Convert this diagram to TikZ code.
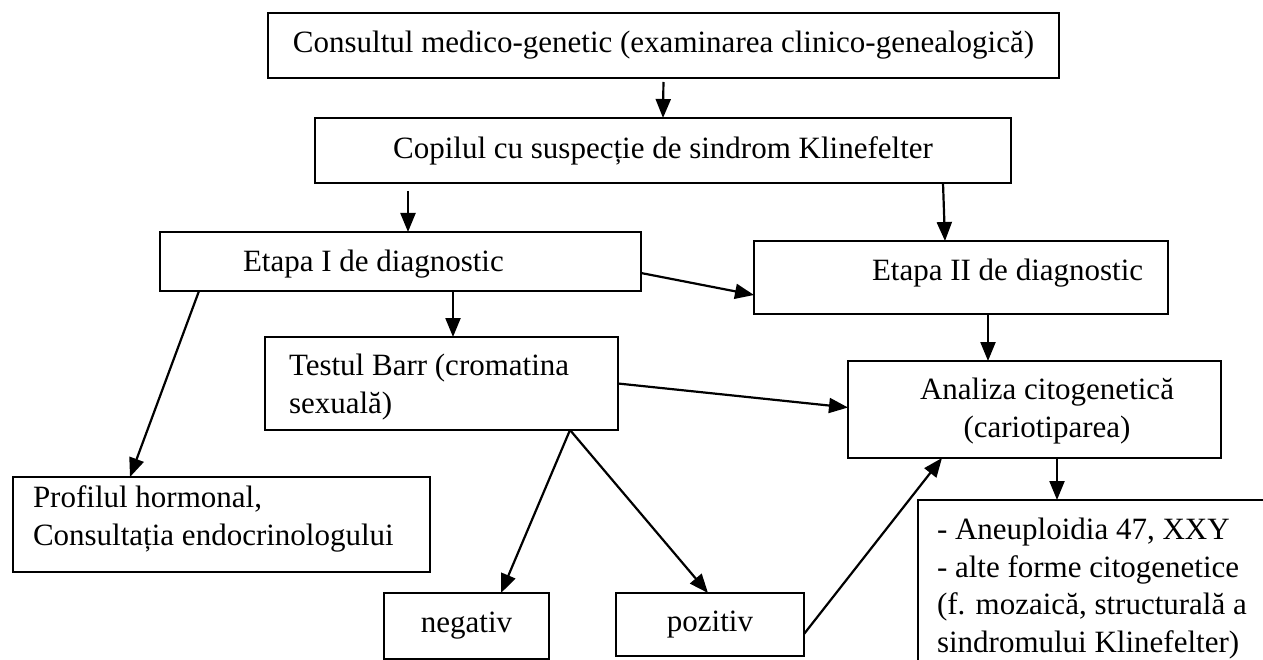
\documentclass[tikz,border=0pt]{standalone}
\usepackage{fontspec}
\setmainfont{Liberation Serif}
\usetikzlibrary{arrows.meta,calc}
\begin{document}
\begin{tikzpicture}[x=1pt,y=-1pt,
  box/.style={draw,line width=1.6pt,inner sep=0pt,outer sep=0pt,font=\fontsize{31}{37.5}\selectfont},
  txt/.style={inner sep=0pt,outer sep=0pt,align=left,font=\fontsize{31}{37.5}\selectfont},
  arr/.style={line width=2.2pt,-{Triangle[length=19pt,width=15pt]}}]
\useasboundingbox[fill=white] (0,0) rectangle (1263,660);
% boxes
\node[box,minimum width=791pt,minimum height=65pt] (top) at (663.5,45.5) {Consultul medico-genetic (examinarea clinico-genealogică)};
\node[box,minimum width=696pt,minimum height=65pt] (copil) at (663,150.5) {Copilul cu suspecție de sindrom Klinefelter};
\node[box,minimum width=481pt,minimum height=59pt] (e1) at (400.5,261.5) {};
\node[box,minimum width=414pt,minimum height=73pt] (e2) at (961,277.5) {};
\node[box,minimum width=353pt,minimum height=93pt] (barr) at (441.5,383.5) {};
\node[box,minimum width=373pt,minimum height=97pt] (cito) at (1034.5,409.5) {};
\node[box,minimum width=417pt,minimum height=95pt] (horm) at (221.5,524.5) {};
\node[box,minimum width=362pt,minimum height=180pt] (rez) at (1099,590) {};
\node[box,minimum width=165pt,minimum height=66pt] (neg) at (466.5,626) {negativ};
\node[box,minimum width=188pt,minimum height=63pt] (poz) at (710,624.5) {pozitiv};
% texts (base = baseline of last line)
\node[txt,anchor=base west] at (243,272) {Etapa I de diagnostic};
\node[txt,anchor=base west] at (872,280) {Etapa II de diagnostic};
\node[txt,anchor=base west] at (289,413) {Testul Barr (cromatina\\sexuală)};
\node[txt,anchor=base,align=center] at (1047,437) {Analiza citogenetică\\(cariotiparea)};
\node[txt,anchor=base west] at (33,545) {Profilul hormonal,\\Consultația endocrinologului};
\node[txt,anchor=base west] at (937,652) {- Aneuploidia 47, XXY\\- alte forme citogenetice\\(f. mozaică, structurală a\\sindromului Klinefelter)};
% connectors
\draw[arr,shorten <=4pt] (top.south) -- (copil.north);
\draw[arr,shorten <=8pt] ($(copil.south west)+(93,0)$) -- ($(e1.north west)+(248,0)$);
\draw[arr] ($(copil.south west)+(628,0)$) -- ($(e2.north west)+(191,0)$);
\draw[arr] ($(e1.east)+(0,11.5)$) -- ($(e2.west)+(0,17.5)$);
\draw[arr] ($(e1.south west)+(293,0)$) -- ($(barr.north west)+(188,0)$);
\draw[arr] ($(e1.south west)+(39,0)$) -- ($(horm.north west)+(117,0)$);
\draw[arr] ($(e2.south west)+(234,0)$) -- ($(cito.north west)+(140,0)$);
\draw[arr] (barr.east) -- ($(cito.west)+(0,-2)$);
\draw[arr] ($(barr.south west)+(305,0)$) -- ($(neg.north west)+(117,0)$);
\draw[arr] ($(barr.south west)+(305,0)$) -- ($(poz.north west)+(92,0)$);
\draw[arr] ($(poz.east)+(0,9.5)$) -- ($(cito.south west)+(94,0)$);
\draw[arr] ($(cito.south west)+(209,0)$) -- ($(rez.north west)+(139,0)$);
\end{tikzpicture}
\end{document}
